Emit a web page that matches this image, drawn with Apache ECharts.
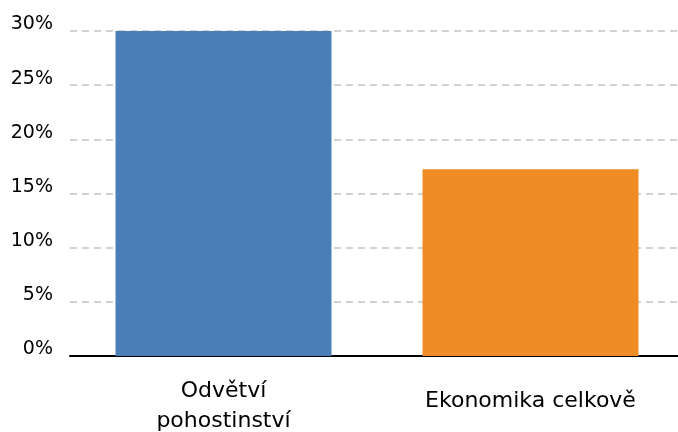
<!DOCTYPE html>
<html><head><meta charset="utf-8">
<script src="https://cdn.jsdelivr.net/npm/echarts@6/dist/echarts.min.js"></script>
<style>html,body{margin:0;padding:0;background:#fff}#c{width:678px;height:432px}</style>
</head><body><div id="c"></div>
<script>
const categories = ['Odvětví\npohostinství', 'Ekonomika celkově'];
const values = [30.1, 17.25];
const colors = ['#4A7EB7', '#EF8C25'];
const yTicks = [0, 5, 10, 15, 20, 25, 30];

const chart = echarts.init(document.getElementById('c'), null, {renderer: 'canvas'});
chart.setOption({
  animation: false,
  grid: {left: 70, width: 614, top: 31, height: 325, outerBoundsMode: 'none', containLabel: false},
  xAxis: {
    type: 'category',
    data: categories.map(c => c.includes('\n') ? c : {value: c, textStyle: {padding: [10, 0, 0, 0]}}),
    axisLine: {lineStyle: {color: '#000', width: 2}},
    axisTick: {show: false},
    axisLabel: {color: '#000', fontSize: 22, fontFamily: 'DejaVu Sans', lineHeight: 30, margin: 20}
  },
  yAxis: {
    type: 'value', min: yTicks[0], max: yTicks[yTicks.length - 1], interval: 5,
    axisLine: {show: false}, axisTick: {show: false},
    axisLabel: {color: '#000', fontSize: 19, fontFamily: 'DejaVu Sans', margin: 17,
      verticalAlign: 'bottom', lineHeight: 13, formatter: v => v + '%'},
    splitLine: {lineStyle: {color: '#c4c4c4', type: [7, 5], width: 1.5}}
  },
  series: [{
    type: 'bar', barWidth: 216,
    data: values.map((v, i) => ({value: v, itemStyle: {color: colors[i]}}))
  }]
});
</script></body></html>
